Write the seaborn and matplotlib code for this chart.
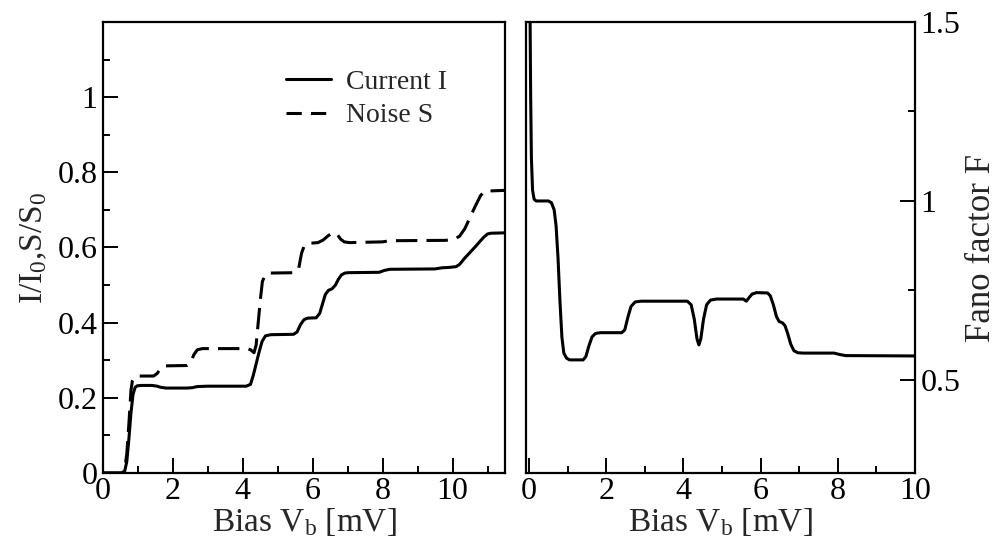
import matplotlib
matplotlib.use("Agg")
import matplotlib.pyplot as plt
from matplotlib.ticker import MultipleLocator, FixedLocator
import seaborn as sns
import pandas as pd

# ---------------- data ----------------
bias_I = [0, 0.55, 0.62, 0.68, 0.74, 0.80, 0.86, 0.92, 0.98, 1.1, 1.4, 1.55, 1.65, 1.8,
          2.4, 2.55, 2.7, 3.0, 4.1, 4.22, 4.3, 4.38, 4.46, 4.55, 4.65, 4.8, 5.45, 5.55,
          5.65, 5.75, 5.85, 6.1, 6.2, 6.28, 6.36, 6.45, 6.55, 6.65, 6.73, 6.82, 6.92,
          7.02, 7.9, 8.05, 8.2, 9.5, 9.7, 9.9, 10.1, 10.2, 10.35, 10.5, 10.65, 10.8,
          10.9, 11.0, 11.1, 11.5]
current_I = [0, 0, 0.005, 0.03, 0.09, 0.16, 0.21, 0.228, 0.232, 0.233, 0.233, 0.231, 0.228,
             0.226, 0.226, 0.227, 0.23, 0.231, 0.231, 0.236, 0.26, 0.29, 0.32, 0.35, 0.365,
             0.368, 0.369, 0.375, 0.395, 0.408, 0.412, 0.413, 0.425, 0.45, 0.475, 0.486,
             0.49, 0.5, 0.515, 0.527, 0.532, 0.533, 0.534, 0.539, 0.542, 0.543, 0.546,
             0.547, 0.549, 0.555, 0.572, 0.587, 0.602, 0.618, 0.628, 0.636, 0.638, 0.639]

bias_S = [0, 0.55, 0.62, 0.68, 0.74, 0.80, 0.84, 0.9, 0.98, 1.45, 1.55, 1.65, 1.75, 2.4,
          2.5, 2.6, 2.7, 2.85, 4.1, 4.22, 4.32, 4.38, 4.44, 4.5, 4.56, 4.65, 4.8, 5.5,
          5.6, 5.68, 5.76, 5.88, 6.15, 6.3, 6.45, 6.6, 6.7, 6.8, 6.9, 7.05, 8.0, 8.2,
          9.8, 10.05, 10.2, 10.35, 10.5, 10.65, 10.8, 10.92, 11.5]
noise_S = [0, 0, 0.01, 0.05, 0.13, 0.22, 0.245, 0.255, 0.258, 0.258, 0.265, 0.278, 0.285,
           0.286, 0.292, 0.315, 0.328, 0.331, 0.331, 0.328, 0.32, 0.34, 0.4, 0.46, 0.51,
           0.528, 0.532, 0.533, 0.545, 0.585, 0.605, 0.611, 0.613, 0.62, 0.632, 0.64,
           0.635, 0.622, 0.615, 0.613, 0.615, 0.618, 0.619, 0.622, 0.63, 0.65, 0.68,
           0.71, 0.738, 0.75, 0.752]

bias_F = [0.02, 0.04, 0.06, 0.09, 0.13, 0.18, 0.5, 0.58, 0.65, 0.7, 0.75, 0.8, 0.85, 0.9,
          0.97, 1.05, 1.4, 1.47, 1.55, 1.63, 1.72, 1.85, 2.4, 2.48, 2.56, 2.64, 2.75,
          2.9, 4.1, 4.2, 4.28, 4.35, 4.4, 4.45, 4.52, 4.6, 4.7, 4.85, 5.55, 5.63, 5.7,
          5.78, 5.9, 6.18, 6.25, 6.33, 6.41, 6.48, 6.56, 6.63, 6.7, 6.78, 6.86, 6.96,
          7.1, 7.9, 8.05, 8.2, 10.0]
fano_F = [1.6, 1.3, 1.12, 1.03, 1.005, 1.0, 1.0, 0.995, 0.975, 0.93, 0.84, 0.72, 0.62,
          0.575, 0.561, 0.556, 0.556, 0.565, 0.595, 0.62, 0.63, 0.632, 0.632, 0.64, 0.675,
          0.705, 0.718, 0.72, 0.72, 0.71, 0.67, 0.615, 0.598, 0.615, 0.67, 0.71, 0.723,
          0.726, 0.726, 0.72, 0.73, 0.74, 0.744, 0.743, 0.735, 0.71, 0.677, 0.663, 0.66,
          0.652, 0.63, 0.6, 0.582, 0.576, 0.575, 0.575, 0.571, 0.568, 0.567]

left_yticks = [0, 0.2, 0.4, 0.6, 0.8, 1.0]
left_yticklabels = ["0", "0.2", "0.4", "0.6", "0.8", "1"]
left_xticks = [0, 2, 4, 6, 8, 10]
right_xticks = [0, 2, 4, 6, 8, 10]
right_yticks = [0.5, 1.0, 1.5]
right_yticklabels = ["0.5", "1", "1.5"]

# ---------------- style ----------------
sns.set_theme(style="ticks")
plt.rcParams.update({
    "font.family": ["Liberation Serif", "DejaVu Serif"],
    "mathtext.fontset": "custom",
    "mathtext.rm": "Liberation Serif",
    "mathtext.it": "Liberation Serif:italic",
    "axes.linewidth": 1.6,
    "axes.edgecolor": "black",
    "xtick.direction": "in",
    "ytick.direction": "in",
    "xtick.major.size": 10.5,
    "ytick.major.size": 10.5,
    "xtick.minor.size": 5,
    "ytick.minor.size": 5,
    "xtick.major.width": 1.4,
    "ytick.major.width": 1.4,
    "xtick.minor.width": 1.4,
    "ytick.minor.width": 1.4,
    "xtick.color": "black",
    "ytick.color": "black",
    "xtick.labelsize": 23,
    "ytick.labelsize": 23,
})

W, H = 997, 545
fig = plt.figure(figsize=(W / 100, H / 100), dpi=100)
axL = fig.add_axes([103 / W, 1 - 473 / H, 402 / W, 451 / H])
axR = fig.add_axes([526 / W, 1 - 473 / H, 389 / W, 451 / H])

lw = 2.2
dash = (7, 3)
dfI = pd.DataFrame({"bias": bias_I, "val": current_I})
dfS = pd.DataFrame({"bias": bias_S, "val": noise_S})
dfF = pd.DataFrame({"bias": bias_F, "val": fano_F})

sns.lineplot(data=dfI, x="bias", y="val", ax=axL, color="black", lw=lw,
             label="Current I", sort=False, estimator=None)
sns.lineplot(data=dfS, x="bias", y="val", ax=axL, color="black", lw=lw,
             label="Noise S", sort=False, estimator=None)
axL.lines[1].set_dashes(dash)

sns.lineplot(data=dfF, x="bias", y="val", ax=axR, color="black", lw=lw,
             sort=False, estimator=None)

# left axes
axL.set_xlim(0, 11.5)
axL.set_ylim(0, 1.2)
axL.set_xticks(left_xticks)
axL.xaxis.set_minor_locator(MultipleLocator(1))
axL.set_yticks(left_yticks)
axL.set_yticklabels(left_yticklabels)
axL.yaxis.set_minor_locator(FixedLocator([0.1, 0.3, 0.5, 0.7, 0.9, 1.1]))
axL.tick_params(axis="both", which="both", top=False, right=False)
axL.tick_params(axis="x", pad=3)
axL.tick_params(axis="y", pad=4)
axL.set_xlabel(r"Bias V$_\mathrm{b}$ [mV]", fontsize=24, labelpad=0)
axL.set_ylabel(r"I/I$_0$,S/S$_0$", fontsize=24, labelpad=6)
leg = axL.legend(loc="upper left", bbox_to_anchor=(0.428, 0.92), frameon=False,
                 fontsize=20, handlelength=1.6, handletextpad=0.55, labelspacing=0.3,
                 borderaxespad=0)
for h in leg.get_lines():
    h.set_linewidth(lw)
leg.get_lines()[1].set_dashes((5, 3))

# right axes
axR.set_xlim(-0.08, 10)
axR.set_ylim(0.24, 1.5)
axR.set_xticks(right_xticks)
axR.xaxis.set_minor_locator(MultipleLocator(1))
axR.yaxis.tick_right()
axR.yaxis.set_label_position("right")
axR.set_yticks(right_yticks)
axR.set_yticklabels(right_yticklabels)
axR.yaxis.set_minor_locator(FixedLocator([0.75, 1.25]))
axR.tick_params(axis="both", which="both", top=False, left=False)
axR.tick_params(axis="x", pad=3)
axR.tick_params(axis="y", pad=4)
axR.set_xlabel(r"Bias V$_\mathrm{b}$ [mV]", fontsize=24, labelpad=0)
axR.set_ylabel("Fano factor F", fontsize=25, labelpad=3)

for ax in (axL, axR):
    for s in ax.spines.values():
        s.set_visible(True)
        s.set_linewidth(1.6)
        s.set_color("black")

fig.savefig("out.png", dpi=100)
